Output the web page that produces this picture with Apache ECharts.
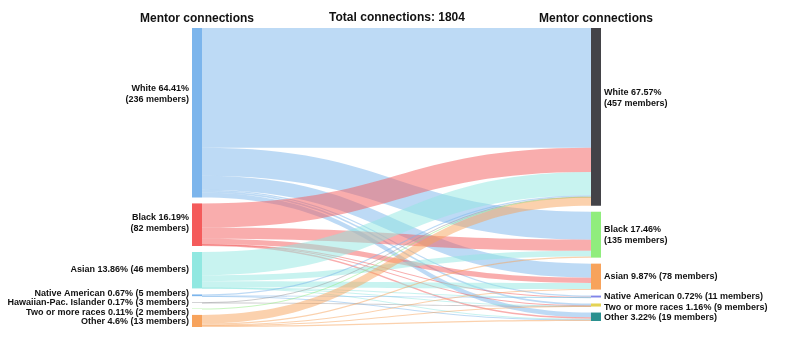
<!DOCTYPE html>
<html>
<head>
<meta charset="utf-8">
<script src="https://cdn.jsdelivr.net/npm/echarts@6/dist/echarts.min.js"></script>
<style>
	html, body { margin: 0; padding: 0; background: #fff; }
	#chart { width: 792px; height: 354px; }
</style>
</head>
<body>
<div id="chart"></div>
<script>
/* 左欄：導師族群 */
const leftNames = ["White", "Black", "Asian", "Native American", "Hawaiian-Pac. Islander", "Two or more races", "Other"];
const leftPct = ["64.41", "16.19", "13.86", "0.67", "0.17", "0.11", "4.6"];
const leftMembers = [236, 82, 46, 5, 3, 2, 13];

/* 右欄 */
const rightNames = ["White", "Black", "Asian", "Native American", "Two or more races", "Other"];
const rightPct = ["67.57", "17.46", "9.87", "0.72", "1.16", "3.22"];
const rightMembers = [457, 135, 78, 11, 9, 19];

/* 連線數（每列對應一個左側族群，順序同 rightNames） */
const flowWhite = [822, 192, 96, 8, 12, 32];
const flowBlack = [166, 76, 36, 2, 2, 10];
const flowAsian = [160, 40, 42, 1, 2, 5];
const flowNative = [8, 0, 0, 2, 0, 2];
const flowHawaiian = [2, 0, 0, 0, 1, 0];
const flowTwoMore = [2, 0, 0, 0, 0, 0];
const flowOther = [59, 7, 4, 0, 4, 9];

const totalConnections = 1804;

/* 樣式 */
const leftColors = ["#7cb5ec", "#f45b5b", "#91e8e1", "#7cb5ec", "#9a9a9e", "#90ed7d", "#f7a35c"];
const rightColors = ["#434348", "#90ed7d", "#f7a35c", "#8085e9", "#e4d354", "#2b908f"];
/* 標籤微調（垂直位移） */
const leftShift = [-19, -2, -1, -2, 0, 4, 1];
const rightShift = [-19, 0, 0, 0, 3, 1];

const flows = [flowWhite, flowBlack, flowAsian, flowNative, flowHawaiian, flowTwoMore, flowOther];
const twoLine = ["White", "Black"];

const labelFont = {
	fontFamily: "Liberation Sans, Arial, sans-serif",
	fontSize: 9,
	fontWeight: "bold",
	color: "#111",
	lineHeight: 11,
};

const makeText = (name, pct, members) =>
	twoLine.includes(name)
		? `${name} ${pct}%\n(${members} members)`
		: `${name} ${pct}% (${members} members)`;

const nodes = [];
leftNames.forEach((name, i) => {
	nodes.push({
		name: "L-" + name,
		itemStyle: { color: leftColors[i] },
		label: Object.assign(
			{ position: "left", distance: 3, offset: [0, leftShift[i]], formatter: makeText(name, leftPct[i], leftMembers[i]) },
			labelFont
		),
	});
});
rightNames.forEach((name, i) => {
	nodes.push({
		name: "R-" + name,
		itemStyle: { color: rightColors[i] },
		label: Object.assign(
			{ position: "right", distance: 3, offset: [0, rightShift[i]], formatter: makeText(name, rightPct[i], rightMembers[i]) },
			labelFont
		),
	});
});

const links = [];
flows.forEach((row, i) => {
	row.forEach((v, j) => {
		if (!v) return;
		links.push({ source: "L-" + leftNames[i], target: "R-" + rightNames[j], value: v });
	});
});

const chart = echarts.init(document.getElementById("chart"));
const titleStyle = {
	fontFamily: "Liberation Sans, Arial, sans-serif",
	fontSize: 12,
	fontWeight: "bold",
	fill: "#111",
	align: "center",
	verticalAlign: "middle",
};
chart.setOption({
	animation: false,
	graphic: [
		{ type: "text", x: 197, y: 19, style: Object.assign({ text: "Mentor connections" }, titleStyle) },
		{ type: "text", x: 397, y: 18, style: Object.assign({ text: `Total connections: ${totalConnections}` }, titleStyle) },
		{ type: "text", x: 596, y: 19, style: Object.assign({ text: "Mentor connections" }, titleStyle) },
	],
	series: [
		{
			type: "sankey",
			left: 192,
			right: 191,
			top: 28,
			bottom: 27,
			nodeWidth: 10,
			nodeGap: 6,
			layoutIterations: 0,
			draggable: false,
			emphasis: { disabled: true },
			itemStyle: { borderWidth: 0 },
			lineStyle: { color: "source", opacity: 0.5, curveness: 0.5 },
			data: nodes,
			links: links,
		},
	],
});
</script>
</body>
</html>
